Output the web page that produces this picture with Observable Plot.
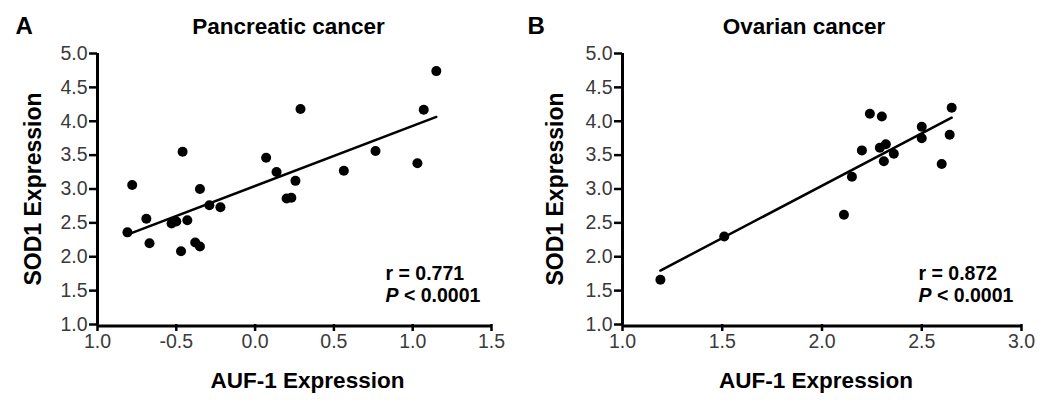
<!DOCTYPE html>
<html><head><meta charset="utf-8">
<script src="https://cdn.jsdelivr.net/npm/d3@7"></script>
<script src="https://cdn.jsdelivr.net/npm/@observablehq/plot@0.6"></script>
<style>
body{margin:0;background:#fff;}
#wrap{display:flex;width:1050px;height:400px;}
</style>
</head><body><div id="wrap"></div>
<script>
// Panel A: Pancreatic cancer
const pancAUF1 = [-0.78,-0.46,-0.35,0.07,0.136,0.256,0.20,0.23,0.288,0.563,0.764,1.03,1.07,1.15,
                  -0.81,-0.69,-0.67,-0.53,-0.50,-0.47,-0.43,-0.38,-0.35,-0.29,-0.22];
const pancSOD1 = [3.06,3.55,3.00,3.46,3.25,3.12,2.86,2.87,4.18,3.27,3.56,3.38,4.17,4.74,
                  2.36,2.56,2.20,2.49,2.52,2.08,2.54,2.21,2.15,2.76,2.73];
// Panel B: Ovarian cancer
const ovAUF1 = [2.24,2.30,2.20,2.29,2.32,2.31,2.36,2.15,2.50,2.50,2.65,2.64,2.60,1.19,1.51,2.11];
const ovSOD1 = [4.11,4.07,3.57,3.61,3.66,3.41,3.52,3.18,3.92,3.75,4.20,3.80,3.37,1.66,2.30,2.62];

const yTicks = [1,1.5,2,2.5,3,3.5,4,4.5,5];
const yTickLabels = ["1.0","1.5","2.0","2.5","3.0","3.5","4.0","4.5","5.0"];
const xTicksA = [-1,-0.5,0,0.5,1,1.5];
const xTickLabelsA = ["1.0","-0.5","0.0","0.5","1.0","1.5"];
const xTicksB = [1,1.5,2,2.5,3];
const xTickLabelsB = ["1.0","1.5","2.0","2.5","3.0"];

const panels = [
  {letter:"A", title:"Pancreatic cancer", xs:pancAUF1, ys:pancSOD1, xTicks:xTicksA, xLabels:xTickLabelsA,
   r:"r = 0.771", p:"P < 0.0001", marginRight:34, titleDx:-6, xLabelDx:13, yLabelX:33, letterX:15, annDx:-106},
  {letter:"B", title:"Ovarian cancer", xs:ovAUF1, ys:ovSOD1, xTicks:xTicksB, xLabels:xTickLabelsB,
   r:"r = 0.872", p:"P < 0.0001", marginRight:29, titleDx:-18, xLabelDx:-6, yLabelX:30, letterX:2, annDx:-103}
];

const FONT = '"Liberation Sans", Arial, sans-serif';
const ML = 97, MT = 53, MB = 76;

for (const P of panels) {
  const data = P.xs.map((x,i) => ({x, y:P.ys[i]}));
  const xd = [P.xTicks[0], P.xTicks[P.xTicks.length-1]];
  const svg = Plot.plot({
    width:525, height:400,
    marginLeft:ML, marginRight:P.marginRight, marginTop:MT, marginBottom:MB,
    style:{fontFamily:FONT, background:"white", overflow:"visible"},
    x:{domain:xd, label:null},
    y:{domain:[1,5], label:null},
    marks:[
      Plot.axisX({ticks:P.xTicks, tickFormat:d => P.xLabels[P.xTicks.indexOf(d)], tickSize:7, tickPadding:3,
                  fontSize:19.5, strokeWidth:2.5, color:"black", label:null}),
      Plot.axisY({ticks:yTicks, tickFormat:d => yTickLabels[yTicks.indexOf(d)], tickSize:8, tickPadding:2,
                  fontSize:19.5, strokeWidth:2.5, color:"black", label:null}),
      Plot.ruleX([xd[0]], {stroke:"black", strokeWidth:3}),
      Plot.ruleY([1], {stroke:"black", strokeWidth:3, dy:1.5}),
      Plot.linearRegressionY(data, {x:"x", y:"y", ci:0, stroke:"black", strokeWidth:2.5}),
      Plot.dot(data, {x:"x", y:"y", r:5, fill:"black", stroke:"none"}),
      // title
      Plot.text([P.title], {frameAnchor:"top", lineAnchor:"bottom", dy:-20, dx:P.titleDx, fontSize:22.5, fontWeight:"bold", fill:"black"}),
      // panel letter
      Plot.text([P.letter], {frameAnchor:"top-left", textAnchor:"start", lineAnchor:"bottom", dy:-20, dx:P.letterX - ML, fontSize:24, fontWeight:"bold", fill:"black"}),
      // axis titles
      Plot.text(["AUF-1 Expression"], {frameAnchor:"bottom", lineAnchor:"bottom", dy:63, dx:P.xLabelDx, fontSize:22.5, fontWeight:"bold", fill:"black"}),
      Plot.text(["SOD1 Expression"], {frameAnchor:"left", rotate:-90, textAnchor:"middle", lineAnchor:"middle", dx:P.yLabelX - ML, fontSize:23, fontWeight:"bold", fill:"black"}),
      // stats
      Plot.text([P.r], {frameAnchor:"bottom-right", textAnchor:"start", lineAnchor:"bottom", dx:P.annDx, dy:-45, fontSize:19.5, fontWeight:"bold", fill:"black"}),
      Plot.text([P.p], {frameAnchor:"bottom-right", textAnchor:"start", lineAnchor:"bottom", dx:P.annDx, dy:-23, fontSize:19.5, fontWeight:"bold", fill:"black"})
    ]
  });
  // tick label colour and italic P
  svg.querySelectorAll('g[aria-label$="tick label"]').forEach(g => g.setAttribute("fill", "#3a3a3a"));
  svg.querySelectorAll("text").forEach(t => {
    if (t.textContent === P.p) {
      const rest = P.p.slice(1);
      t.textContent = "";
      const a = document.createElementNS("http://www.w3.org/2000/svg","tspan");
      a.setAttribute("font-style","italic"); a.textContent = "P";
      const b = document.createElementNS("http://www.w3.org/2000/svg","tspan");
      b.textContent = rest;
      t.appendChild(a); t.appendChild(b);
    }
  });
  document.getElementById("wrap").appendChild(svg);
}
</script>
</body></html>
